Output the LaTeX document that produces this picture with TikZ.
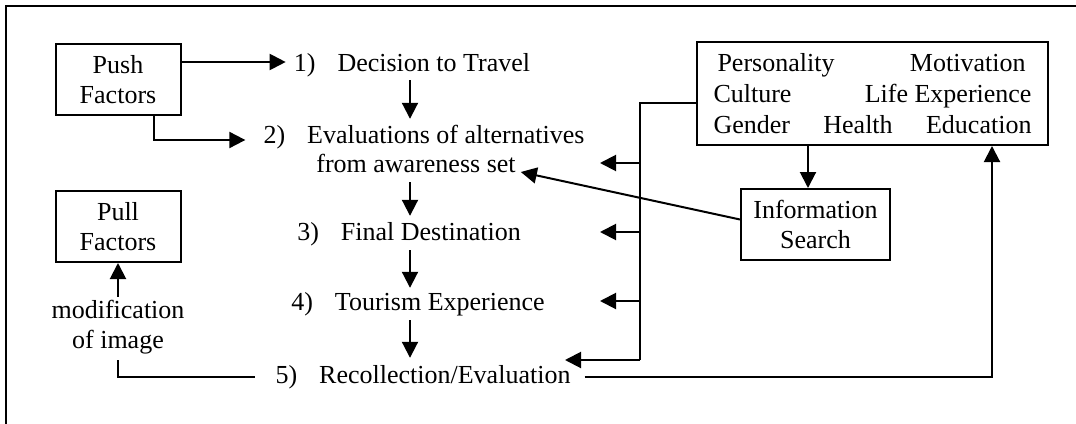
\documentclass[tikz,border=0pt]{standalone}
\usepackage{fontspec}
\setmainfont{Liberation Serif}
\usetikzlibrary{arrows.meta,calc}
\newcommand{\stepno}[1]{#1\hspace{22pt}}
\newcommand{\wline}[1]{\makebox[318pt]{#1}}
\begin{document}
\begin{tikzpicture}[x=1pt,y=-1pt,
  every node/.style={font=\fontsize{26}{30.5}\selectfont},
  box/.style={draw,line width=2pt,inner sep=0pt,align=center},
  lbl/.style={inner sep=0pt,text height=18pt,text depth=6pt,anchor=base},
  wire/.style={line width=2pt},
  arr/.style={wire,-{Triangle[length=16pt,width=16pt]}},
]
\useasboundingbox (0,0) rectangle (1076,423);
% outer frame, open to the right and bottom
\begin{scope}
  \clip (0,0) rectangle (1076,423);
  \draw[line width=2.5pt] (6,6) rectangle (1120,460);
\end{scope}

% left-hand factor boxes
\node[box,minimum width=125pt,minimum height=71pt] (push) at (118,79.5) {Push\\Factors};
\node[box,minimum width=125pt,minimum height=71pt] (pull) at (118,226.5) {Pull\\Factors};
\node[inner sep=0pt,align=center] (mod) at (118,327) {modification\\of image};

% decision stages
\node[lbl] (s1)  at (412,71)  {\stepno{1)}Decision to Travel};
\node[lbl] (s2a) at (424,143) {\stepno{2)}Evaluations of alternatives};
\node[lbl] (s2b) at (416,172) {from awareness set};
\node[lbl] (s3)  at (409,240) {\stepno{3)}Final Destination};
\node[lbl] (s4)  at (418,310) {\stepno{4)}Tourism Experience};
\node[lbl] (s5)  at (423,383) {\stepno{5)}Recollection/Evaluation};

% personal characteristics and information search
\node[box,minimum width=351pt,minimum height=103pt,font=\fontsize{26}{31}\selectfont] (traits) at (872.5,93.5)
  {\wline{\hspace*{4pt}Personality\hfill Motivation\hspace*{6pt}}\\
   \wline{Culture\hfill Life Experience}\\
   \wline{Gender\hfill Health\hfill Education}};
\node[box,minimum width=149pt,minimum height=71pt] (info) at (815.5,224.5) {Information\\Search};

% helper positions
\coordinate (col) at (410,0);
\coordinate (dn) at (808,0);
\coordinate (up) at (992,0);
\coordinate (bus) at (640,103);
\coordinate (b2) at (640,163);
\coordinate (b3) at (640,232);
\coordinate (b4) at (640,301);
\coordinate (busend) at (640,360);

% push factors feed stages 1 and 2
\draw[arr] ($(push.east |- s1.west)+(0,-3)$) -- ($(s1.west)+(-8,-3)$);
\draw[arr] ([xshift=36pt]push.south) |- ($(s2a.west)+(-18,3)$);

% main sequence
\draw[arr] ($(s1.south -| col)+(0,3)$) -- ($(s2a.north -| col)+(0,-6)$);
\draw[arr] ($(s2b.south -| col)+(0,4)$) -- ($(s3.north -| col)+(0,-6)$);
\draw[arr] ($(s3.south -| col)+(0,4)$) -- ($(s4.north -| col)+(0,-4)$);
\draw[arr] ($(s4.south -| col)+(0,4)$) -- ($(s5.north -| col)+(0,-7)$);

% feedback to pull factors
\draw[arr] ([yshift=3pt]mod.north) -- (pull.south);
\draw[wire] ([yshift=-6pt]mod.south) |- ([xshift=-20pt]s5.west);

% personal characteristics influence every stage
\draw[wire] (traits.west |- bus) -- (bus) -- (busend);
\draw[arr] (b2) -- ++(-40,0);
\draw[arr] (b3) -- ++(-40,0);
\draw[arr] (b4) -- ++(-40,0);
\draw[arr] (busend) -- ++(-75,0);

% information search
\draw[arr] (traits.south -| dn) -- (info.north -| dn);
\draw[arr] ([yshift=5pt]info.west) -- ([xshift=5pt]s2b.base east);

% recollection loops back to personal characteristics
\draw[arr] ([xshift=14pt]s5.east) -| (traits.south -| up);
\end{tikzpicture}
\end{document}
